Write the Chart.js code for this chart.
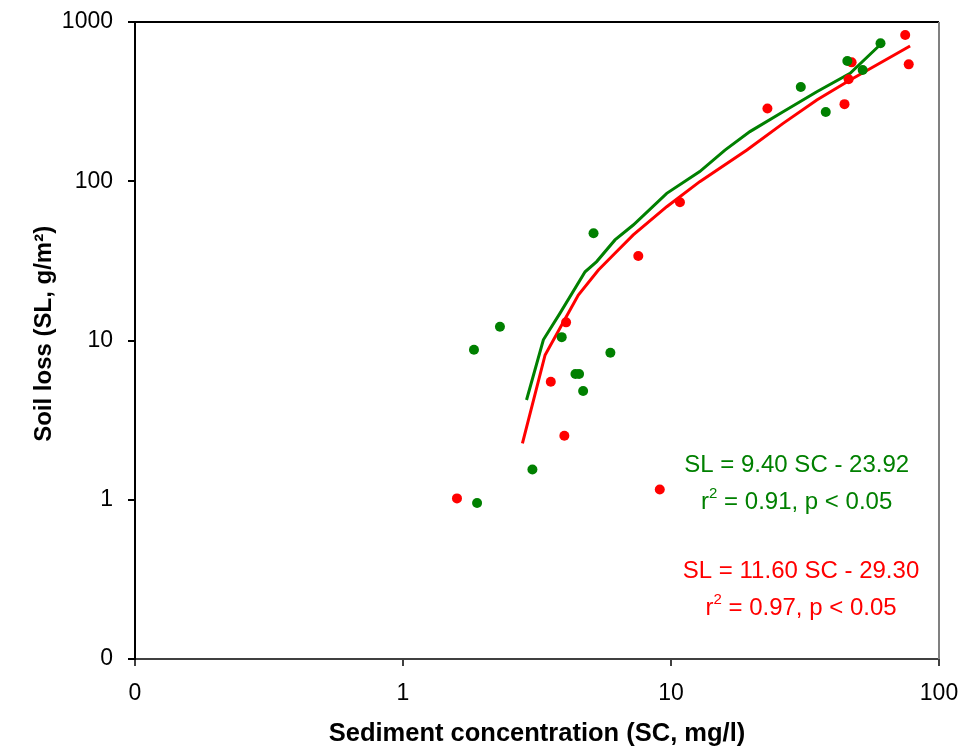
<!DOCTYPE html>
<html>
<head>
<meta charset="utf-8">
<script src="https://cdn.jsdelivr.net/npm/chart.js@4.4.1/dist/chart.umd.min.js"></script>
<style>
  body { margin: 0; background: #fff; }
  #wrap { width: 970px; height: 751px; }
</style>
</head>
<body>
<div id="wrap"><canvas id="chart" width="970" height="751"></canvas></div>
<script>
// observed plots (SC in mg/l, SL in g/m2)
const greenX = [1.84, 1.89, 2.30, 3.04, 3.91, 4.40, 4.54, 4.70, 5.14, 5.94, 30.5, 37.8, 45.5, 51.9, 60.5];
const greenY = [8.75, 0.955, 12.2, 1.55, 10.5, 6.16, 6.16, 4.82, 47.2, 8.38, 391, 272, 569, 500, 735];
const redX = [1.59, 3.56, 4.00, 4.06, 7.55, 9.08, 10.8, 22.9, 44.4, 46.0, 47.2, 74.8, 77.1];
const redY = [1.02, 5.51, 2.52, 13.0, 33.9, 1.16, 73.8, 286, 305, 437, 558, 828, 542];

// fitted curves
const greenFitX = [2.89, 3.34, 3.85, 4.78, 5.28, 6.18, 7.23, 9.64, 12.8, 15.9, 19.7, 26.2, 35.0, 46.6, 61.0];
const greenFitY = [4.23, 10.1, 14.8, 27.0, 31.3, 42.8, 53.1, 84.0, 115, 157, 205, 273, 365, 476, 733];
const redFitX = [2.79, 3.39, 3.91, 4.51, 5.36, 6.18, 7.23, 9.64, 12.8, 19.2, 26.2, 35.0, 46.6, 78.0];
const redFitY = [2.26, 8.11, 12.5, 19.3, 27.7, 35.3, 46.0, 69.2, 99.4, 157, 231, 324, 432, 707];

// axes
const xTicks = [0.1, 1, 10, 100];
const xTickLabels = ['0', '1', '10', '100'];
const yTicks = [0.1, 1, 10, 100, 1000];
const yTickLabels = ['0', '1', '10', '100', '1000'];

const GREEN = '#008000';
const RED = '#ff0000';
const FONT = "'Liberation Sans', Arial, sans-serif";

// regression annotations: [text, isSuperscript]
const greenEq = [['SL = 9.40 SC - 23.92', false]];
const greenStat = [['r', false], ['2', true], [' = 0.91, p < 0.05', false]];
const redEq = [['SL = 11.60 SC - 29.30', false]];
const redStat = [['r', false], ['2', true], [' = 0.97, p < 0.05', false]];

function toPoints(xs, ys) {
    return xs.map((x, i) => ({x: x, y: ys[i]}));
}

// draws a line of text (with optional superscripts) centred on cx, cy
function drawRichText(ctx, parts, cx, cy, color) {
    const normal = '24px ' + FONT;
    const sup = '15px ' + FONT;
    let total = 0;
    parts.forEach(p => {
        ctx.font = p[1] ? sup : normal;
        total += ctx.measureText(p[0]).width;
    });
    let x = cx - total / 2;
    ctx.fillStyle = color;
    ctx.textBaseline = 'middle';
    ctx.textAlign = 'left';
    parts.forEach(p => {
        ctx.font = p[1] ? sup : normal;
        ctx.fillText(p[0], x, p[1] ? cy - 8 : cy);
        x += ctx.measureText(p[0]).width;
    });
}

const annotationPlugin = {
    id: 'annotations',
    afterDatasetsDraw(chart) {
        const {ctx, chartArea: a} = chart;
        const w = a.right - a.left, h = a.bottom - a.top;
        ctx.save();
        // frame: top and right edges
        ctx.lineWidth = 2;
        ctx.strokeStyle = '#000';
        ctx.beginPath();
        ctx.moveTo(a.left, a.top);
        ctx.lineTo(a.right, a.top);
        ctx.stroke();
        ctx.strokeStyle = '#808080';
        ctx.beginPath();
        ctx.moveTo(a.right, a.top);
        ctx.lineTo(a.right, a.bottom);
        ctx.stroke();

        drawRichText(ctx, greenEq, a.left + 0.823 * w, a.top + 0.6965 * h, GREEN);
        drawRichText(ctx, greenStat, a.left + 0.823 * w, a.top + 0.7535 * h, GREEN);
        drawRichText(ctx, redEq, a.left + 0.8284 * w, a.top + 0.863 * h, RED);
        drawRichText(ctx, redStat, a.left + 0.8284 * w, a.top + 0.920 * h, RED);
        ctx.restore();
    }
};

const ctx = document.getElementById('chart').getContext('2d');

const chart = new Chart(ctx, {
    type: 'scatter',
    data: {
        datasets: [
            {
                label: 'Green plots',
                data: toPoints(greenX, greenY),
                backgroundColor: GREEN,
                borderColor: GREEN,
                pointRadius: 5,
                borderWidth: 0
            },
            {
                label: 'Red plots',
                data: toPoints(redX, redY),
                backgroundColor: RED,
                borderColor: RED,
                pointRadius: 5,
                borderWidth: 0
            },
            {
                label: 'Green fit',
                data: toPoints(greenFitX, greenFitY),
                showLine: true,
                borderColor: GREEN,
                borderWidth: 3,
                pointRadius: 0,
                tension: 0
            },
            {
                label: 'Red fit',
                data: toPoints(redFitX, redFitY),
                showLine: true,
                borderColor: RED,
                borderWidth: 3,
                pointRadius: 0,
                tension: 0
            }
        ]
    },
    options: {
        responsive: false,
        animation: false,
        devicePixelRatio: 1,
        layout: {
            padding: {top: 22, right: 31, left: 0, bottom: 0}
        },
        plugins: {
            legend: {display: false},
            tooltip: {enabled: false}
        },
        scales: {
            x: {
                type: 'logarithmic',
                position: 'bottom',
                min: 0.1,
                max: 100,
                afterBuildTicks: scale => {
                    scale.ticks = xTicks.map(v => ({value: v}));
                },
                afterFit: scale => {
                    scale.height = 92;
                    scale.paddingLeft = 0;
                    scale.paddingRight = 0;
                },
                ticks: {
                    autoSkip: false,
                    maxRotation: 0,
                    padding: 14,
                    color: '#000',
                    font: {family: FONT, size: 23},
                    callback: value => xTickLabels[xTicks.indexOf(value)]
                },
                grid: {
                    drawOnChartArea: false,
                    drawTicks: true,
                    tickLength: 7,
                    color: '#404040',
                    lineWidth: 2
                },
                border: {display: true, color: '#404040', width: 2},
                title: {
                    display: true,
                    text: 'Sediment concentration (SC, mg/l)',
                    color: '#000',
                    font: {family: FONT, size: 25.5, weight: 'bold'},
                    padding: {top: 0, bottom: 2}
                }
            },
            y: {
                type: 'logarithmic',
                position: 'left',
                min: 0.1,
                max: 1000,
                afterBuildTicks: scale => {
                    scale.ticks = yTicks.map(v => ({value: v}));
                },
                afterFit: scale => {
                    scale.width = 135;
                    scale.paddingTop = 0;
                    scale.paddingBottom = 0;
                },
                ticks: {
                    autoSkip: false,
                    padding: 15,
                    color: '#000',
                    font: {family: FONT, size: 23},
                    callback: value => yTickLabels[yTicks.indexOf(value)]
                },
                grid: {
                    drawOnChartArea: false,
                    drawTicks: true,
                    tickLength: 7,
                    color: '#000',
                    lineWidth: 2
                },
                border: {display: true, color: '#000', width: 2},
                title: {
                    display: true,
                    text: '  Soil loss (SL, g/m²)',
                    color: '#000',
                    font: {family: FONT, size: 24, weight: 'bold'},
                    padding: {top: 30, bottom: 0}
                }
            }
        }
    },
    plugins: [annotationPlugin]
});
</script>
</body>
</html>
